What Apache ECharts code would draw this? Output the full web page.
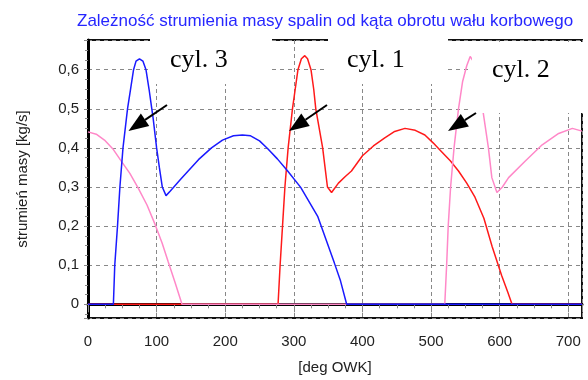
<!DOCTYPE html>
<html>
<head>
<meta charset="utf-8">
<script src="https://cdn.jsdelivr.net/npm/echarts@6/dist/echarts.min.js"></script>
<style>
  html, body { margin: 0; padding: 0; background: #fff; }
  #chart { width: 588px; height: 380px; }
</style>
</head>
<body>
<div id="chart"></div>
<script>
// mass flow [kg/s] vs crank angle [deg OWK]
const cyl1 = [
  [0, 0], [277, 0], [280, 0.1], [283.5, 0.2], [287, 0.3], [291.7, 0.4], [298, 0.5], [302, 0.55],
  [306, 0.6], [311, 0.628], [316, 0.636], [320, 0.628], [325, 0.6], [329, 0.55], [332, 0.5],
  [342, 0.4], [349, 0.3], [355, 0.286], [365, 0.31], [375, 0.327], [384, 0.341], [400, 0.38],
  [416, 0.405], [432, 0.425], [447, 0.442], [462, 0.45], [477, 0.445], [491, 0.433], [503, 0.413],
  [515, 0.391], [528, 0.367], [540, 0.341], [552, 0.31], [564, 0.274], [577, 0.22], [589, 0.148],
  [603, 0.073], [612, 0.03], [618, 0], [720, 0]
];
const cyl2 = [
  [0, 0.441], [12, 0.435], [24, 0.42], [36, 0.398], [49, 0.365], [61, 0.335], [73, 0.298],
  [86, 0.254], [97.6, 0.205], [108, 0.157], [117, 0.108], [127, 0.055], [137, 0], [520, 0],
  [522.7, 0.1], [525, 0.2], [528.5, 0.3], [533.5, 0.4], [540, 0.5], [546, 0.57], [552, 0.61],
  [557, 0.634], [562, 0.62], [567, 0.58], [572, 0.53], [576, 0.49], [583.6, 0.4], [588.6, 0.324],
  [596, 0.286], [604, 0.3], [613, 0.324], [637, 0.366], [662, 0.408], [686, 0.437], [706, 0.45],
  [720, 0.443]
];
const cyl3 = [
  [0, 0], [37, 0], [39, 0.1], [43, 0.2], [46.5, 0.3], [51, 0.4], [57.6, 0.5], [62, 0.55],
  [66.4, 0.6], [70, 0.622], [75, 0.628], [80, 0.622], [84.5, 0.6], [89, 0.55], [93, 0.5],
  [95, 0.475], [100, 0.4], [104, 0.35], [108.3, 0.3], [113.7, 0.278], [120, 0.29], [135, 0.32],
  [161, 0.37], [180, 0.4], [196, 0.42], [212, 0.431], [225, 0.433], [237, 0.431], [250, 0.418],
  [262, 0.398], [276, 0.372], [291, 0.341], [310, 0.299], [335, 0.224], [359, 0.106], [368, 0.06],
  [377, 0], [720, 0]
];
const cylLabels = ['cyl. 3', 'cyl. 1', 'cyl. 2'];

const chart = echarts.init(document.getElementById('chart'));

// black arrow: line from tail to tip plus a triangular head
function arrow(tail, tip) {
  const dx = tip[0] - tail[0], dy = tip[1] - tail[1];
  const len = Math.sqrt(dx * dx + dy * dy);
  const ux = dx / len, uy = dy / len;
  const hl = 20, hw = 7.5;
  const bx = tip[0] - ux * hl, by = tip[1] - uy * hl;
  return [
    { type: 'line', z: 110, shape: { x1: tail[0], y1: tail[1], x2: bx, y2: by },
      style: { stroke: '#000', lineWidth: 2 } },
    { type: 'polygon', z: 110,
      shape: { points: [tip, [bx - uy * hw, by + ux * hw], [bx + uy * hw, by - ux * hw]] },
      style: { fill: '#000' } }
  ];
}

function box(x, y, w, h) {
  return { type: 'rect', z: 100, shape: { x: x, y: y, width: w, height: h }, style: { fill: '#fff' } };
}

function label(text, x, y) {
  return { type: 'text', z: 105, x: x, y: y,
    style: { text: text, fill: '#000', font: '26px "Liberation Serif"', verticalAlign: 'middle' } };
}

const option = {
  animation: false,
  title: {
    text: 'Zależność strumienia masy spalin od kąta obrotu wału korbowego',
    left: 72, top: 8,
    textStyle: { color: '#2626ff', fontFamily: 'Liberation Sans', fontSize: 17, fontWeight: 'normal' }
  },
  grid: { left: 88, right: 6, top: 40, bottom: 57, show: true, borderColor: '#111', borderWidth: 2 },
  xAxis: {
    type: 'value', min: 0, max: 720, interval: 100,
    name: '[deg OWK]', nameLocation: 'middle', nameGap: 42,
    nameTextStyle: { color: '#222', fontFamily: 'Liberation Sans', fontSize: 15 },
    axisLine: { lineStyle: { color: '#000', width: 3 } },
    axisTick: { length: 8, lineStyle: { color: '#888' } },
    minorTick: { show: true, splitNumber: 4, length: 4, lineStyle: { color: '#888' } },
    axisLabel: { showMaxLabel: false, margin: 16, color: '#222', fontFamily: 'Liberation Sans', fontSize: 15 },
    splitLine: { show: true, lineStyle: { color: '#888', type: [4, 3] } }
  },
  yAxis: {
    type: 'value', min: -0.035, max: 0.676, splitNumber: 7,
    name: 'strumień masy [kg/s]', nameLocation: 'middle', nameGap: 58,
    nameTextStyle: { color: '#222', fontFamily: 'Liberation Sans', fontSize: 15 },
    axisLine: { lineStyle: { color: '#000', width: 3 } },
    axisTick: { length: 4, lineStyle: { color: '#888' } },
    minorTick: { show: true, splitNumber: 4, length: 3, lineStyle: { color: '#888' } },
    axisLabel: {
      margin: 9, color: '#222', fontFamily: 'Liberation Sans', fontSize: 15,
      formatter: function (v) {
        const r = Math.round(v * 10) / 10;
        if (Math.abs(v - r) > 1e-6) return '';
        return r === 0 ? '0' : r.toFixed(1).replace('.', ',');
      }
    },
    splitLine: { show: true, lineStyle: { color: '#888', type: [4, 4] } }
  },
  series: [
    { name: cylLabels[1], type: 'line', data: cyl1, showSymbol: false, lineStyle: { color: '#ff1a1a', width: 1.5 } },
    { name: cylLabels[2], type: 'line', data: cyl2, showSymbol: false, lineStyle: { color: '#ff88c8', width: 1.5 } },
    { name: cylLabels[0], type: 'line', data: cyl3, showSymbol: false, lineStyle: { color: '#1a1aff', width: 1.5 } }
  ],
  graphic: [
    box(150, 37, 122, 47), label(cylLabels[0], 170, 60),
    box(328, 37, 120, 47), label(cylLabels[1], 347, 60),
    box(472, 42, 116, 71), label(cylLabels[2], 492, 70)
  ].concat(arrow([167, 105], [128.5, 131]))
   .concat(arrow([327, 105], [289, 131]))
   .concat(arrow([476, 113], [448, 131]))
};

chart.setOption(option);
</script>
</body>
</html>
